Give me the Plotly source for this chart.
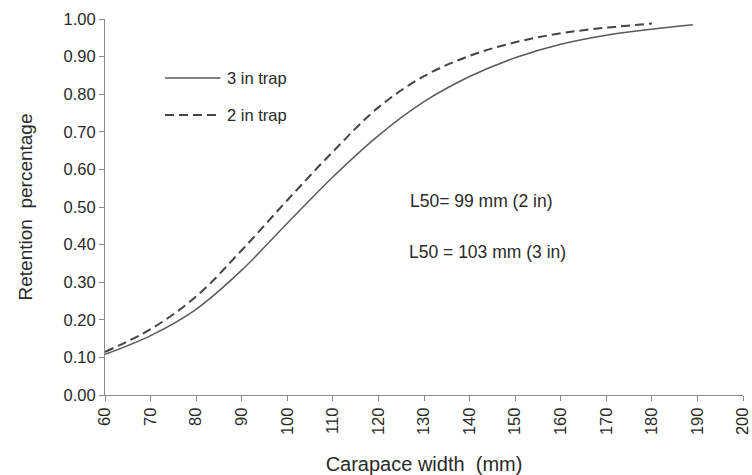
import plotly.graph_objects as go

# Data
x_3in = [60, 70, 80, 90, 100, 110, 120, 130, 140, 150, 160, 170, 180, 189]
y_3in = [0.108, 0.158, 0.228, 0.332, 0.457, 0.58, 0.69, 0.78, 0.847, 0.897, 0.933, 0.957, 0.973, 0.985]

x_2in = [60, 70, 80, 90, 100, 110, 120, 130, 140, 150, 160, 170, 180]
y_2in = [0.115, 0.175, 0.262, 0.385, 0.518, 0.647, 0.765, 0.848, 0.902, 0.938, 0.962, 0.977, 0.988]

x_ticks = list(range(60, 201, 10))
y_ticks = [i / 10 for i in range(0, 11)]

legend_labels = ["3 in trap", "2 in trap"]
notes = ["L50= 99 mm (2 in)", "L50 = 103 mm (3 in)"]

FONT = "Liberation Sans, Arial, sans-serif"
TXT = "#2a2a2a"
AX = "#8a8a8a"

fig = go.Figure()
fig.add_trace(go.Scatter(x=x_3in, y=y_3in, mode="lines", name=legend_labels[0],
                         line=dict(color="#5a5a5a", width=1.5, shape="spline", smoothing=1.0), showlegend=False))
fig.add_trace(go.Scatter(x=x_2in, y=y_2in, mode="lines", name=legend_labels[1],
                         line=dict(color="#444444", width=2, dash="9px,5px", shape="spline", smoothing=1.0),
                         showlegend=False))

# manual legend
fig.add_shape(type="line", xref="paper", yref="paper", x0=0.094, x1=0.181, y0=0.843, y1=0.843,
              line=dict(color="#5a5a5a", width=1.5))
fig.add_shape(type="line", xref="paper", yref="paper", x0=0.094, x1=0.181, y0=0.745, y1=0.745,
              line=dict(color="#444444", width=2, dash="9px,5px"))
fig.add_annotation(xref="paper", yref="paper", x=0.188, y=0.843, text=legend_labels[0], showarrow=False,
                   xanchor="left", yanchor="middle", font=dict(family=FONT, size=16.5, color=TXT))
fig.add_annotation(xref="paper", yref="paper", x=0.188, y=0.745, text=legend_labels[1], showarrow=False,
                   xanchor="left", yanchor="middle", font=dict(family=FONT, size=16.5, color=TXT))

fig.add_annotation(x=126.5, y=0.517, text=notes[0], showarrow=False, xanchor="left", yanchor="middle",
                   font=dict(family=FONT, size=17.5, color=TXT))
fig.add_annotation(x=126.3, y=0.381, text=notes[1], showarrow=False, xanchor="left", yanchor="middle",
                   font=dict(family=FONT, size=17.5, color=TXT))

fig.update_layout(
    width=752, height=475,
    margin=dict(l=105, r=9, t=19, b=80),
    paper_bgcolor="white", plot_bgcolor="white",
    font=dict(family=FONT, size=16, color=TXT),
    xaxis=dict(range=[60, 200], tickvals=x_ticks, ticktext=[str(v) for v in x_ticks],
               tickangle=-90, ticks="outside", ticklen=5, tickcolor=AX, automargin=False,
               ticklabeloverflow="allow",
               showline=True, linecolor=AX, linewidth=1, showgrid=False, zeroline=False,
               tickfont=dict(family=FONT, size=16.5, color=TXT),
               title=dict(text="Carapace width\u00a0 (mm)", font=dict(family=FONT, size=20, color=TXT), standoff=22)),
    yaxis=dict(range=[0, 1], tickvals=y_ticks, tickformat=".2f", ticks="outside", ticklen=5, tickcolor=AX,
               automargin=False,
               showline=True, linecolor=AX, linewidth=1, showgrid=False, zeroline=False,
               tickfont=dict(family=FONT, size=16.5, color=TXT),
               title=dict(text="Retention\u00a0 percentage", font=dict(family=FONT, size=19, color=TXT), standoff=25)),
)

fig.write_html("out.html", config={"displayModeBar": False},
               post_script="document.body.style.margin='0px';")
